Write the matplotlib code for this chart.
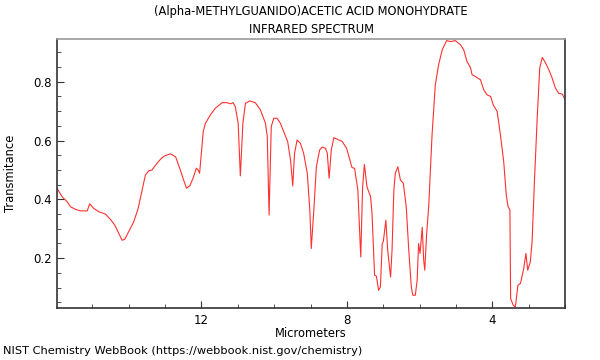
import numpy as np
import matplotlib
matplotlib.use("Agg")
import matplotlib.pyplot as plt
from matplotlib.ticker import MultipleLocator

# SPECTRUM (wavelength in micrometers, transmittance)

wavelength = [
    15.97, 15.83, 15.69, 15.60, 15.46, 15.33, 15.14, 15.07, 14.96, 14.82,
    14.64, 14.50, 14.38, 14.27, 14.18, 14.11, 14.00, 13.86, 13.74, 13.63,
    13.54, 13.45, 13.36, 13.22, 13.10, 13.01, 12.85, 12.71, 12.58, 12.49,
    12.41, 12.32, 12.23, 12.14, 12.09, 12.05, 12.01, 11.95, 11.89, 11.75,
    11.62, 11.43, 11.29, 11.20, 11.13, 11.07, 10.99, 10.93, 10.86, 10.79,
    10.67, 10.52, 10.38, 10.24, 10.19, 10.14, 10.08, 10.01, 9.92, 9.83,
    9.74, 9.63, 9.55, 9.49, 9.44, 9.37, 9.28, 9.19, 9.09, 9.02,
    8.98, 8.91, 8.84, 8.75, 8.68, 8.59, 8.54, 8.49, 8.43, 8.36,
    8.27, 8.13, 8.01, 7.92, 7.86, 7.79, 7.70, 7.66, 7.62, 7.57,
    7.52, 7.45, 7.35, 7.31, 7.24, 7.19, 7.13, 7.08, 7.03, 7.00,
    6.93, 6.88, 6.80, 6.76, 6.71, 6.67, 6.60, 6.53, 6.45, 6.37,
    6.30, 6.23, 6.19, 6.12, 6.07, 6.03, 5.99, 5.93, 5.89, 5.86,
    5.81, 5.75, 5.72, 5.66, 5.57, 5.48, 5.38, 5.26, 5.15, 5.02,
    4.88, 4.79, 4.70, 4.60, 4.56, 4.47, 4.33, 4.24, 4.15, 4.05,
    3.98, 3.87, 3.78, 3.69, 3.62, 3.57, 3.52, 3.50, 3.43, 3.37,
    3.30, 3.23, 3.14, 3.08, 3.03, 2.96, 2.91, 2.85, 2.77, 2.70,
    2.63, 2.54, 2.45, 2.36, 2.27, 2.18, 2.08, 2.00,
]

transmittance = [
    0.438, 0.409, 0.392, 0.375, 0.366, 0.361, 0.361, 0.385, 0.369, 0.358,
    0.350, 0.332, 0.312, 0.284, 0.261, 0.264, 0.290, 0.324, 0.369, 0.432,
    0.483, 0.497, 0.500, 0.523, 0.540, 0.548, 0.555, 0.545, 0.500, 0.466,
    0.438, 0.446, 0.472, 0.506, 0.500, 0.489, 0.545, 0.631, 0.659, 0.688,
    0.710, 0.729, 0.729, 0.725, 0.729, 0.716, 0.659, 0.480, 0.659, 0.727,
    0.735, 0.729, 0.705, 0.659, 0.614, 0.347, 0.648, 0.676, 0.676, 0.659,
    0.631, 0.597, 0.534, 0.446, 0.557, 0.602, 0.591, 0.557, 0.489, 0.364,
    0.233, 0.364, 0.511, 0.568, 0.578, 0.574, 0.557, 0.472, 0.568, 0.610,
    0.605, 0.597, 0.574, 0.534, 0.508, 0.506, 0.432, 0.318, 0.204, 0.440,
    0.519, 0.443, 0.409, 0.352, 0.142, 0.139, 0.091, 0.102, 0.250, 0.256,
    0.329, 0.227, 0.136, 0.227, 0.432, 0.489, 0.511, 0.466, 0.455, 0.375,
    0.227, 0.102, 0.074, 0.074, 0.125, 0.250, 0.216, 0.305, 0.193, 0.159,
    0.280, 0.380, 0.460, 0.620, 0.790, 0.858, 0.909, 0.940, 0.937, 0.940,
    0.926, 0.909, 0.869, 0.847, 0.824, 0.818, 0.807, 0.773, 0.756, 0.750,
    0.722, 0.699, 0.619, 0.528, 0.415, 0.375, 0.364, 0.063, 0.040, 0.034,
    0.108, 0.114, 0.165, 0.216, 0.159, 0.187, 0.256, 0.449, 0.676, 0.847,
    0.883, 0.864, 0.841, 0.813, 0.779, 0.761, 0.758, 0.739,
]

title = "(Alpha-METHYLGUANIDO)ACETIC ACID MONOHYDRATE\nINFRARED SPECTRUM"
footer = "NIST Chemistry WebBook (https://webbook.nist.gov/chemistry)"

#PLOT

fig = plt.figure(figsize=(6, 3.6), dpi=100)
ax = fig.add_axes([0.095, 0.144, 0.847, 0.748])

ax.plot(wavelength, transmittance, color="#ff3030", linewidth=0.8)

ax.set_xlim(15.97, 2.0)
ax.set_ylim(0.03, 0.946)

ax.xaxis.set_major_locator(MultipleLocator(4))
ax.xaxis.set_minor_locator(MultipleLocator(1))
ax.yaxis.set_major_locator(MultipleLocator(0.2))
ax.yaxis.set_minor_locator(MultipleLocator(0.05))

ax.tick_params(which="both", direction="in", labelsize=8.5, color="#333333")
ax.tick_params(which="major", length=5)
ax.tick_params(which="minor", length=3)
ax.tick_params(axis="x", pad=4)

for side in ["left", "bottom", "right"]:
    ax.spines[side].set_color("#333333")
ax.spines["top"].set_color("#999999")
for s in ax.spines.values():
    s.set_linewidth(1.2)

ax.set_xlabel("Micrometers", fontsize=8.3, labelpad=0)
ax.set_ylabel("Transmitance", fontsize=8.3, labelpad=12)
ax.set_title(title, fontsize=8.3, linespacing=1.55, pad=4)

fig.text(0.005, 0.012, footer, fontsize=8.2, ha="left", va="bottom")

fig.savefig("out.png", dpi=100)
